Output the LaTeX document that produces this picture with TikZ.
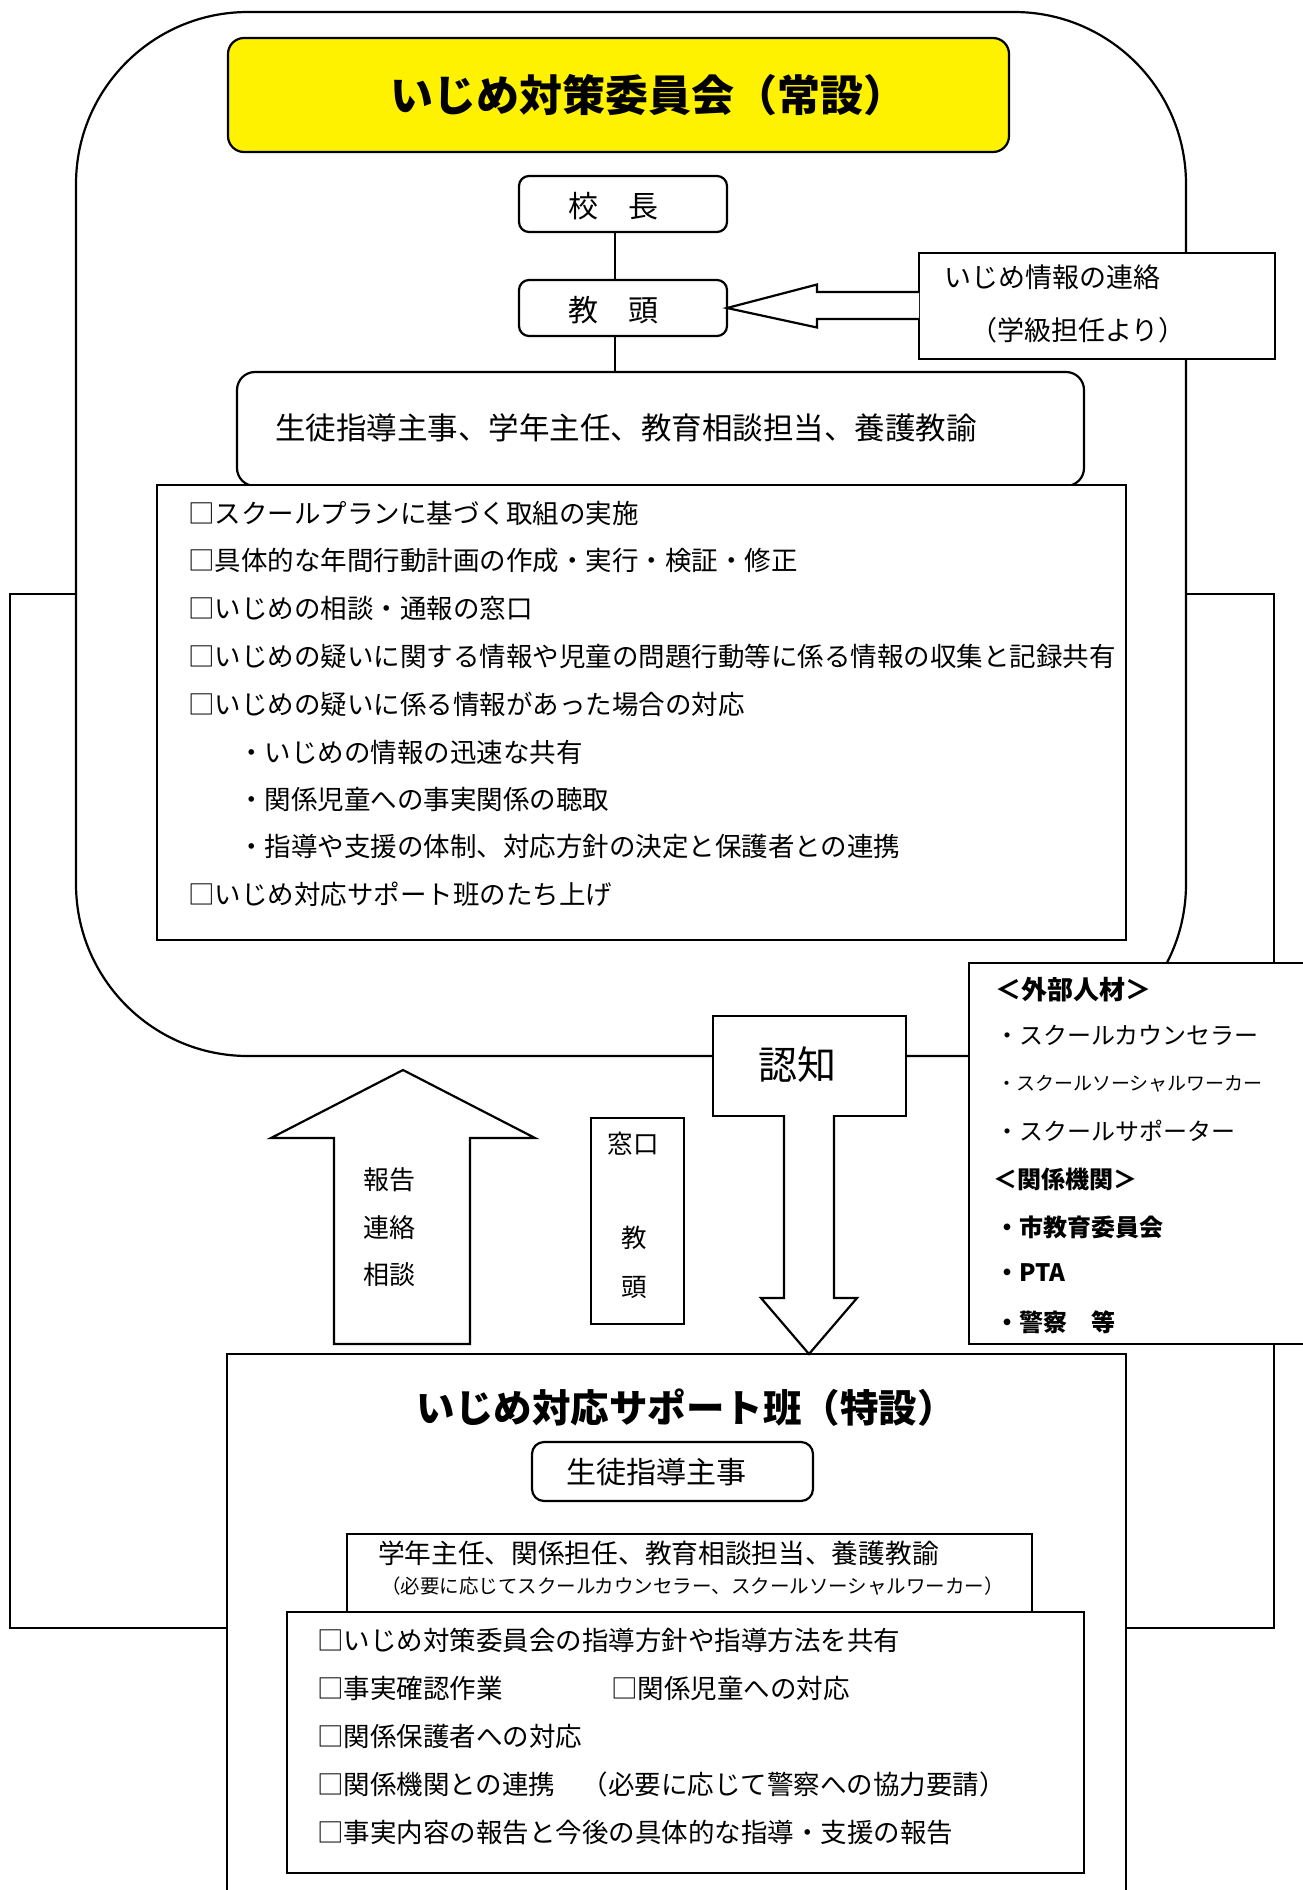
\documentclass[tikz,border=0pt]{standalone}
\usepackage{fontspec}
\setmainfont{Noto Sans CJK JP}
\newcommand\myfs[1]{\fontsize{#1pt}{#1pt}\selectfont}
\begin{document}
\begin{tikzpicture}[x=1pt,y=-1pt,
  every node/.style={inner sep=0pt,outer sep=0pt},
  ln/.style={line width=2.2pt,line join=miter},
  bx/.style={draw,line width=2.2pt,fill=white,rectangle},
  txt/.style={anchor=west},
  lst/.style={anchor=west,font=\myfs{26.5}},
]
\useasboundingbox (0,0) rectangle (1303,1890);
% outer frame
\node[bx,minimum width=1264pt,minimum height=1034pt] (frame) at (642,1111) {};
% committee rounded region
\node[bx,rounded corners=172pt,minimum width=1110pt,minimum height=1044pt] (committee) at (631,534) {};
% title
\node[bx,fill=yellow,rounded corners=16pt,minimum width=781pt,minimum height=114pt] (titlebox) at (618.5,95) {};
\node[font=\myfs{43}\bfseries] (title) at (648,95) {いじめ対策委員会（常設）};
% principal / vice principal
\node[bx,rounded corners=10pt,minimum width=208pt,minimum height=56pt] (kocho) at (623,204) {};
\node[font=\myfs{30}] (kochot) at (613,206) {校　長};
\node[bx,rounded corners=10pt,minimum width=208pt,minimum height=56pt] (kyoto) at (623,308) {};
\node[font=\myfs{30}] (kyotot) at (613,310) {教　頭};
% staff box
\node[bx,rounded corners=18pt,minimum width=847pt,minimum height=114pt] (staff) at (660.5,429) {};
\node[txt,font=\myfs{30.5}] (stafft) at (275,428) {生徒指導主事、学年主任、教育相談担当、養護教諭};
\draw[ln] ([xshift=-8pt]kocho.south) -- ([xshift=-8pt]kyoto.north);
\draw[ln] ([xshift=-8pt]kyoto.south) -- ([xshift=-8pt]kyoto.south |- staff.north);
% checklist
\node[bx,minimum width=969pt,minimum height=455pt] (check) at (641.5,712.5) {};
\node[lst] (c1) at (188,513) {□スクールプランに基づく取組の実施};
\node[lst] (c2) at (188,560) {□具体的な年間行動計画の作成・実行・検証・修正};
\node[lst] (c3) at (188,608) {□いじめの相談・通報の窓口};
\node[lst] (c4) at (188,656) {□いじめの疑いに関する情報や児童の問題行動等に係る情報の収集と記録共有};
\node[lst] (c5) at (188,704) {□いじめの疑いに係る情報があった場合の対応};
\node[lst] (c6) at (238,752) {・いじめの情報の迅速な共有};
\node[lst] (c7) at (238,799) {・関係児童への事実関係の聴取};
\node[lst] (c8) at (238,846) {・指導や支援の体制、対応方針の決定と保護者との連携};
\node[lst] (c9) at (188,894) {□いじめ対応サポート班のたち上げ};
% info box + block arrow
\node[bx,minimum width=356pt,minimum height=106pt] (info) at (1097,306) {};
\node[txt,font=\myfs{27}] (info1) at (944,277) {いじめ情報の連絡};
\node[txt,font=\myfs{27}] (info2) at (970,330) {（学級担任より）};
\draw[ln,fill=white] (info.west |- 0,292) -- (817,292) -- (817,284.5) -- (kyoto.east) -- (817,327.5) -- (817,319) -- (info.west |- 0,319);
% external resources
\node[bx,minimum width=341pt,minimum height=381pt] (ext) at (1139.5,1153.5) {};
\node[txt,font=\myfs{26}\bfseries] (e1) at (995,990) {＜外部人材＞};
\node[txt,font=\myfs{24}] (e2) at (995,1035) {・スクールカウンセラー};
\node[txt,font=\myfs{19}] (e3) at (997,1084) {・スクールソーシャルワーカー};
\node[txt,font=\myfs{24}] (e4) at (995,1131) {・スクールサポーター};
\node[txt,font=\myfs{24}\bfseries] (e5) at (993,1179) {＜関係機関＞};
\node[txt,font=\myfs{24}\bfseries] (e6) at (995,1227) {・市教育委員会};
\node[txt,font=\myfs{24}\bfseries] (e7) at (995,1273) {・PTA};
\node[txt,font=\myfs{24}\bfseries] (e8) at (995,1322) {・警察　等};
% recognition box + down arrow
\node[bx,minimum width=193pt,minimum height=100pt] (ninchi) at (809.5,1066) {};
\node[font=\myfs{39}] (ninchit) at (797,1065) {認知};
% support team box
\node[bx,minimum width=899pt,minimum height=546pt] (support) at (676.5,1627) {};
\coordinate (dtip) at (809,1354);
\draw[ln,fill=white] (784,1115) -- (784,1298) -- (761,1298) -- (dtip) -- (857,1298) -- (834,1298) -- (834,1115);
% up arrow
\coordinate (utip) at (403,1070);
\draw[ln,fill=white] (334,1344) -- (334,1138) -- (271,1138) -- (utip) -- (535,1138) -- (470,1138) -- (470,1344) -- cycle;
\node[font=\myfs{26}] (u1) at (389,1180) {報告};
\node[font=\myfs{26}] (u2) at (389,1228) {連絡};
\node[font=\myfs{26}] (u3) at (389,1275) {相談};
% window box
\node[bx,minimum width=93pt,minimum height=206pt] (mado) at (637.5,1221) {};
\node[font=\myfs{25.5}] (m1) at (633,1144) {窓口};
\node[font=\myfs{25.5}] (m2) at (634,1238) {教};
\node[font=\myfs{25.5}] (m3) at (634,1287) {頭};
% support team contents
\node[font=\myfs{38.5}\bfseries] (title2) at (686,1408) {いじめ対応サポート班（特設）};
\node[bx,rounded corners=12pt,minimum width=281pt,minimum height=59pt] (shido) at (672.5,1471.5) {};
\node[font=\myfs{30}] (shidot) at (656,1472) {生徒指導主事};
\node[bx,minimum width=685pt,minimum height=91pt] (gakunen) at (689.5,1579.5) {};
\node[txt,font=\myfs{26.7}] (g1) at (378,1553) {学年主任、関係担任、教育相談担当、養護教諭};
\node[txt,font=\myfs{19.5}] (g2) at (381,1586) {（必要に応じてスクールカウンセラー、スクールソーシャルワーカー）};
\node[bx,minimum width=797pt,minimum height=261pt] (slist) at (685.5,1742.5) {};
\node[lst] (s1) at (317,1640) {□いじめ対策委員会の指導方針や指導方法を共有};
\node[lst] (s2) at (317,1688) {□事実確認作業};
\node[lst] (s2b) at (611,1688) {□関係児童への対応};
\node[lst] (s3) at (317,1736) {□関係保護者への対応};
\node[lst] (s4) at (317,1784) {□関係機関との連携　（必要に応じて警察への協力要請）};
\node[lst] (s5) at (317,1832) {□事実内容の報告と今後の具体的な指導・支援の報告};
\end{tikzpicture}
\end{document}
